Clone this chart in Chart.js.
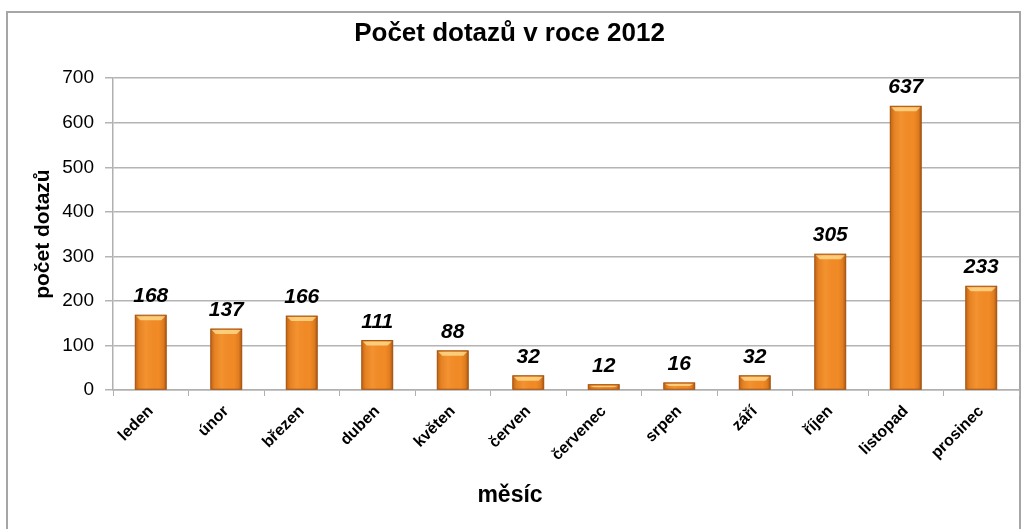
<!DOCTYPE html>
<html>
<head>
<meta charset="utf-8">
<script src="https://cdn.jsdelivr.net/npm/chart.js@4.4.0/dist/chart.umd.min.js"></script>
<style>
  html, body { margin: 0; padding: 0; background: #fff; }
  #wrap { width: 1026px; height: 529px; }
</style>
</head>
<body>
<div id="wrap"><canvas id="chart" width="1026" height="529"></canvas></div>
<script>
'use strict';

// Data.
const months = ['leden', 'únor', 'březen', 'duben', 'květen', 'červen',
    'červenec', 'srpen', 'září', 'říjen', 'listopad', 'prosinec'];
const queries = [168, 137, 166, 111, 88, 32, 12, 16, 32, 305, 637, 233];
const yTicks = [0, 100, 200, 300, 400, 500, 600, 700];
const xTitle = 'měsíc';

const FONT = '"Liberation Sans", Arial, sans-serif';

// Outer chart border like the Excel frame, and the x axis title
// (centred on the whole frame, not on the plot area).
const framePlugin = {
    id: 'frame',
    beforeDraw: (chart) => {
        const ctx = chart.ctx;
        ctx.save();
        ctx.strokeStyle = '#a6a6a6';
        ctx.lineWidth = 2;
        ctx.strokeRect(7, 12, 1013, 540);
        ctx.restore();
    },
    afterDraw: (chart) => {
        const ctx = chart.ctx;
        ctx.save();
        ctx.fillStyle = '#000';
        ctx.font = 'bold 23px ' + FONT;
        ctx.textAlign = 'center';
        ctx.textBaseline = 'middle';
        ctx.fillText(xTitle, 510, 496);
        ctx.restore();
    },
};

// Bevel shading on top of the plain bars, plus value labels.
const barStylePlugin = {
    id: 'barStyle',
    afterDatasetsDraw: (chart) => {
        const ctx = chart.ctx;
        const meta = chart.getDatasetMeta(0);
        ctx.save();
        meta.data.forEach((bar, i) => {
            const left = bar.x - bar.width / 2;
            const top = bar.y;
            const h = bar.base - bar.y;
            const w = bar.width;

            const g = ctx.createLinearGradient(left, 0, left + w, 0);
            g.addColorStop(0, 'rgba(150,70,10,0.55)');
            g.addColorStop(0.12, 'rgba(150,70,10,0.15)');
            g.addColorStop(0.35, 'rgba(255,200,120,0.12)');
            g.addColorStop(0.75, 'rgba(150,70,10,0.0)');
            g.addColorStop(0.9, 'rgba(150,70,10,0.2)');
            g.addColorStop(1, 'rgba(120,55,5,0.6)');
            ctx.fillStyle = g;
            ctx.fillRect(left, top, w, h);

            // light top bevel
            const bevel = Math.min(5, h / 2);
            ctx.fillStyle = 'rgba(255,225,150,0.75)';
            ctx.beginPath();
            ctx.moveTo(left + 1, top + 1);
            ctx.lineTo(left + w - 1, top + 1);
            ctx.lineTo(left + w - 5, top + bevel);
            ctx.lineTo(left + 5, top + bevel);
            ctx.closePath();
            ctx.fill();

            ctx.strokeStyle = '#a3520f';
            ctx.lineWidth = 1;
            ctx.strokeRect(left, top, w, h);

            // value label
            ctx.fillStyle = '#000';
            ctx.font = 'italic bold 21px ' + FONT;
            ctx.textAlign = 'center';
            ctx.textBaseline = 'alphabetic';
            ctx.fillText(String(queries[i]), bar.x, top - 13);
        });
        ctx.restore();
    },
};

const renderChart = () => {
    const config = {
        type: 'bar',
        data: {
            labels: months,
            datasets: [{
                data: queries,
                backgroundColor: '#f28b26',
                borderWidth: 0,
                categoryPercentage: 1.0,
                barPercentage: 0.41,
            }],
        },
        options: {
            responsive: false,
            animation: false,
            devicePixelRatio: 1,
            layout: {padding: {left: 0, right: 7, top: 0, bottom: 0}},
            plugins: {
                legend: {display: false},
                tooltip: {enabled: false},
                title: {
                    display: true,
                    text: 'Počet dotazů v roce 2012',
                    color: '#000',
                    font: {family: FONT, size: 26, weight: 'bold'},
                    padding: {top: 18, bottom: 29},
                },
            },
            scales: {
                x: {
                    offset: true,
                    grid: {
                        offset: true,
                        drawOnChartArea: false,
                        drawTicks: true,
                        tickLength: 6,
                        color: '#b0b0b0',
                    },
                    border: {color: '#b0b0b0', width: 1.5},
                    ticks: {
                        color: '#000',
                        font: {family: FONT, size: 16, weight: 'bold'},
                        minRotation: 45,
                        maxRotation: 45,
                        padding: 6,
                        autoSkip: false,
                    },
                    afterFit: (scale) => {
                        scale.height = 139;
                    },
                },
                y: {
                    min: 0,
                    max: 700,
                    afterBuildTicks: (scale) => {
                        scale.ticks = yTicks.map((v) => ({value: v}));
                    },
                    grid: {
                        color: '#b4b4b4',
                        lineWidth: 1.5,
                        tickLength: 8,
                    },
                    border: {color: '#b0b0b0', width: 1.5},
                    ticks: {
                        color: '#000',
                        font: {family: FONT, size: 19},
                        padding: 11,
                    },
                    title: {
                        display: true,
                        text: 'počet dotazů',
                        color: '#000',
                        font: {family: FONT, size: 21, weight: 'bold'},
                        padding: {top: 31, bottom: 0},
                    },
                    afterFit: (scale) => {
                        scale.width = 113;
                    },
                },
            },
        },
        plugins: [framePlugin, barStylePlugin],
    };
    const chart = new Chart(document.getElementById('chart'), config);
    window.console.log(chart.chartArea);
};

renderChart();
</script>
</body>
</html>
